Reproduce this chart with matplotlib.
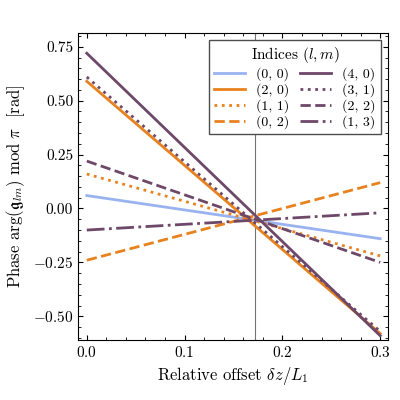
import matplotlib
matplotlib.use("Agg")
import matplotlib.pyplot as plt

plt.rcParams.update({
    "font.family": "serif",
    "mathtext.fontset": "cm",
    "font.serif": ["cmr10", "DejaVu Serif"],
    "axes.unicode_minus": False,
    "axes.formatter.use_mathtext": True,
})

x = [0.0, 0.3]
labels = ["(0, 0)", "(2, 0)", "(1, 1)", "(0, 2)", "(4, 0)", "(3, 1)", "(2, 2)", "(1, 3)"]
starts = [0.06, 0.59, 0.16, -0.24, 0.72, 0.61, 0.22, -0.10]
ends = [-0.14, -0.58, -0.22, 0.12, -0.59, -0.57, -0.25, -0.02]
crossing = 0.172

BLUE, ORANGE, PURPLE = "#99b3f0", "#e8821e", "#6e4868"
colors = [BLUE, ORANGE, ORANGE, ORANGE, PURPLE, PURPLE, PURPLE, PURPLE]
styles = ["-", "-", ":", "--", "-", ":", "--", "-."]

fig, ax = plt.subplots(figsize=(4, 4), dpi=100)
fig.subplots_adjust(left=0.195, right=0.97, top=0.918, bottom=0.15)
ax.axvline(crossing, color="0.45", lw=0.8, zorder=1)
for lab, s, e, c, ls in zip(labels, starts, ends, colors, styles):
    ax.plot(x, [s, e], color=c, ls=ls, lw=2.0, label=lab, zorder=3)

ax.set_xlim(-0.009, 0.308)
ax.set_ylim(-0.61, 0.815)
ax.set_xticks([0.0, 0.1, 0.2, 0.3])
ax.set_yticks([-0.5, -0.25, 0.0, 0.25, 0.5, 0.75])
ax.set_yticklabels(["$-0.50$", "$-0.25$", "0.00", "0.25", "0.50", "0.75"])
ax.minorticks_on()
ax.tick_params(which="both", direction="in", top=True, right=True, labelsize=11)
ax.set_xlabel(r"Relative offset $\delta z/L_1$", fontsize=12)
ax.set_ylabel(r"Phase $\arg(\mathfrak{g}_{lm})\ \mathrm{mod}\ \pi$  [rad]", fontsize=12)
ax.legend(title=r"Indices $(l, m)$", ncol=2, loc="upper right", fontsize=10,
          title_fontsize=11, handlelength=2.2, columnspacing=0.8,
          labelspacing=0.15, fancybox=False, edgecolor="0.3", framealpha=1)
fig.savefig("out.png", dpi=100)
